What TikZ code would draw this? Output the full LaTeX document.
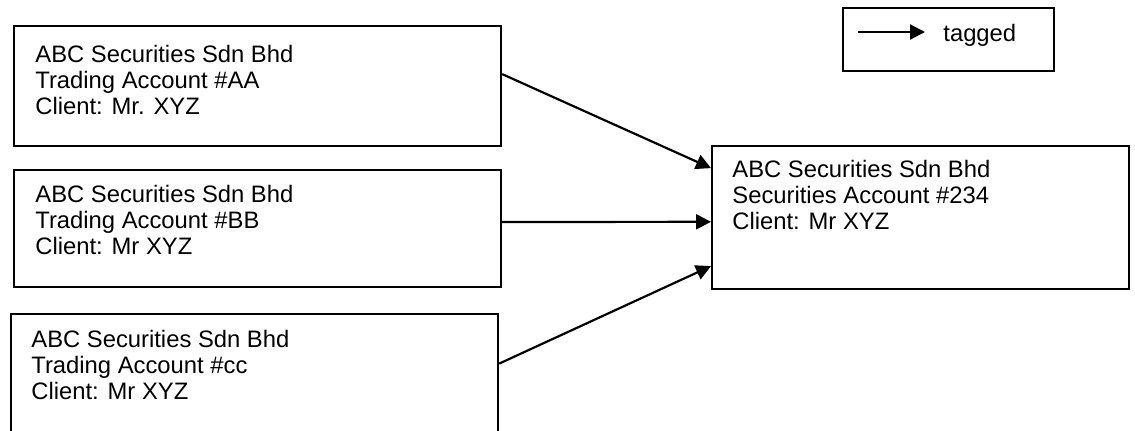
\documentclass[tikz,border=0pt]{standalone}
\usepackage{fontspec}
\setmainfont{Liberation Sans}
\usetikzlibrary{arrows.meta}
\begin{document}
\begin{tikzpicture}[x=0.5pt,y=-0.5pt,
  acct/.style={draw,line width=1.1pt,rectangle,inner sep=0pt,anchor=north west},
  txt/.style={inner sep=0pt,align=left,anchor=north west,
    font=\fontsize{11.9}{13}\selectfont},
  arr/.style={line width=1.1pt,-{Triangle[length=7.5pt,width=7.5pt]}}]
\useasboundingbox (0,0) rectangle (1135,430);
% trading accounts on the left
\node[acct,minimum width=243.5pt,minimum height=60pt] (ta) at (13,25) {};
\node[acct,minimum width=243.5pt,minimum height=58.5pt] (tb) at (13,169) {};
\node[acct,minimum width=243.5pt,minimum height=61pt] (tc) at (10,313) {};
% securities account on the right
\node[acct,minimum width=208.5pt,minimum height=71.5pt] (sa) at (711,145) {};
% legend
\node[acct,minimum width=105.5pt,minimum height=31.5pt] (lg) at (842,7) {};
\coordinate (la) at ([xshift=8pt,yshift=-12.5pt]lg.north west);
\coordinate (lb) at ([xshift=41.5pt,yshift=-12.5pt]lg.north west);
\node[inner sep=0pt,anchor=base west,font=\fontsize{11.9}{13}\selectfont] (lt) at (943,41) {tagged};
\draw[arr] (la) -- (lb);
% texts
\node[txt] (xa) at (35,45) {ABC Securities Sdn Bhd\\Trading Account \#AA\\Client: Mr. XYZ};
\node[txt] (xb) at (35,185) {ABC Securities Sdn Bhd\\Trading Account \#BB\\Client: Mr XYZ};
\node[txt] (xc) at (31,330) {ABC Securities Sdn Bhd\\Trading Account \#cc\\Client: Mr XYZ};
\node[txt] (xs) at (732,160) {ABC Securities Sdn Bhd\\Securities Account \#234\\Client: Mr XYZ};
% tags
\draw[arr] ([yshift=6pt]ta.east) -- ([yshift=24.75pt]sa.west);
\draw[arr] ([yshift=3.3pt]tb.east) -- ([yshift=-2.1pt]sa.west);
\draw[arr] ([yshift=5.75pt]tc.east) -- ([yshift=-24.25pt]sa.west);
\end{tikzpicture}
\end{document}
